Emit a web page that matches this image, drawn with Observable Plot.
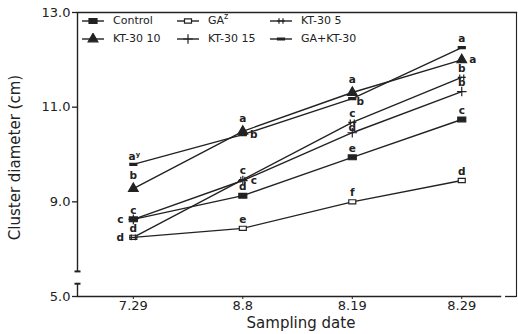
<!DOCTYPE html>
<html>
<head>
<meta charset="utf-8">
<script src="https://cdn.jsdelivr.net/npm/d3@7"></script>
<script src="https://cdn.jsdelivr.net/npm/@observablehq/plot@0.6"></script>
<style>
  body { margin: 0; background: #fff; }
  #chart { position: relative; width: 518px; height: 334px; font-family: "DejaVu Sans", sans-serif; color: #222; }
  #chart svg { display: block; }
  .leg { position: absolute; font-size: 11px; line-height: 12px; white-space: nowrap; display: flex; align-items: center; }
  .leg svg { margin-right: 9px; }
  .leg sup { font-size: 8px; line-height: 0; vertical-align: 5px; }
</style>
</head>
<body>
<div id="chart"></div>
<script>
// Sampling dates (x categories)
const dates = ["7.29", "8.8", "8.19", "8.29"];

// Cluster diameter (cm) per treatment
const control = [8.63, 9.13, 9.94, 10.74];
const ga      = [8.25, 8.44, 9.00, 9.45];
const kt5     = [8.25, 9.47, 10.68, 11.63];
const kt10    = [9.28, 10.49, 11.31, 12.00];
const kt15    = [8.63, 9.45, 10.46, 11.33];
const gaKt    = [9.79, 10.42, 11.18, 12.26];

// Mean separation letters per treatment and date
const lettersControl = ["c", "d", "e", "c"];
const lettersGa      = ["d", "e", "f", "d"];
const lettersKt5     = ["d", "c", "c", "b"];
const lettersKt10    = ["b", "a", "a", "a"];
const lettersKt15    = ["c", "c", "d", "b"];
const lettersGaKt    = ["aʸ", "b", "b", "a"];

// Y axis ticks; the lowest one sits below an axis break
const yTicks = [7, 9, 11, 13];
const yTickLabels = ["5.0", "9.0", "11.0", "13.0"];

const ink = "#222";
const xDomain = [-0.51, 3.5];
const yBreak = [7.27, 7.53];

// Marker shapes
const radius = s => Math.sqrt(s / Math.PI);
const wideBox = {draw(c, s) { const r = radius(s); c.moveTo(-r, -0.6 * r); c.lineTo(r, -0.6 * r); c.lineTo(r, 0.6 * r); c.lineTo(-r, 0.6 * r); c.closePath(); }};
const dash = {draw(c, s) { const r = radius(s); c.moveTo(-r, -1); c.lineTo(r, -1); c.lineTo(r, 1); c.lineTo(-r, 1); c.closePath(); }};
const doublePlus = {draw(c, s) { const r = radius(s); c.moveTo(-r, 0); c.lineTo(r, 0); c.moveTo(-r / 2, -0.7 * r); c.lineTo(-r / 2, 0.7 * r); c.moveTo(r / 2, -0.7 * r); c.lineTo(r / 2, 0.7 * r); }};

const series = [
  {name: "Control",  values: control, letters: lettersControl, sides: ["left", "above", "above", "above"], symbol: wideBox, r: 4, fill: ink, stroke: ink},
  {name: "GA",       values: ga,      letters: lettersGa,      sides: ["left", "above", "above", "above"], symbol: wideBox, r: 3.5, fill: "white", stroke: ink},
  {name: "KT-30 5",  values: kt5,     letters: lettersKt5,     sides: ["above", "above", "above", "above"], symbol: doublePlus, r: 4, fill: "none", stroke: ink},
  {name: "KT-30 10", values: kt10,    letters: lettersKt10,    sides: ["high", "high", "high", "right"], symbol: "triangle", r: 3.6, fill: ink, stroke: ink},
  {name: "KT-30 15", values: kt15,    letters: lettersKt15,    sides: ["above", "right", "near", "above"], symbol: "plus", r: 3.2, fill: "none", stroke: ink},
  {name: "GA+KT-30", values: gaKt,    letters: lettersGaKt,    sides: ["sup", "right", "rightLow", "above"], symbol: dash, r: 3.5, fill: ink, stroke: ink}
];

const rows = series.flatMap(s => s.values.map((v, i) => ({series: s.name, i, value: v, letter: s.letters[i], side: s.sides[i]})));

const labelOffsets = {
  above: {dx: 0, dy: -9},
  high: {dx: 0, dy: -13},
  near: {dx: 0, dy: -5},
  sup: {dx: 1, dy: -8},
  left: {dx: -13, dy: 0},
  right: {dx: 11, dy: 0},
  rightLow: {dx: 8, dy: 3}
};

const marks = [
  Plot.frame({anchor: "top", stroke: ink, strokeWidth: 1.3}),
  Plot.frame({anchor: "right", stroke: ink, strokeWidth: 1.1}),
  // broken left axis
  Plot.ruleX([xDomain[0]], {y1: yBreak[1], y2: 13, stroke: ink, strokeWidth: 1.4}),
  Plot.ruleX([xDomain[0]], {y1: 7, y2: yBreak[0], stroke: ink, strokeWidth: 1.4}),
  Plot.dot(yBreak, {x: xDomain[0], y: d => d, symbol: dash, r: 3, fill: ink, stroke: "none"}),
  // broken bottom axis
  Plot.ruleY([7], {x1: xDomain[0], x2: 3.365, stroke: ink, strokeWidth: 1.3}),
  Plot.ruleY([7], {x1: 3.40, x2: xDomain[1], stroke: ink, strokeWidth: 1.3}),
  Plot.axisY({ticks: yTicks, tickFormat: d => yTickLabels[yTicks.indexOf(d)], tickSize: 5, tickPadding: 2, fontSize: 13, stroke: ink, strokeWidth: 1.3, label: null}),
  Plot.axisX({ticks: [0, 1, 2, 3], tickFormat: i => dates[i], tickSize: 3, tickPadding: 1, fontSize: 13, label: null}),
  Plot.line(rows, {x: "i", y: "value", z: "series", stroke: ink, strokeWidth: 1.4}),
  ...series.map(s => Plot.dot(rows.filter(d => d.series === s.name), {x: "i", y: "value", symbol: s.symbol, r: s.r, fill: s.fill, stroke: s.stroke, strokeWidth: 1.2})),
  ...Object.entries(labelOffsets).map(([side, o]) =>
    Plot.text(rows.filter(d => d.side === side), {x: "i", y: "value", text: "letter", dx: o.dx, dy: o.dy, fontSize: 10.5, fontWeight: "bold", fill: ink})),
  Plot.text(["Sampling date"], {frameAnchor: "bottom", textAnchor: "middle", lineAnchor: "middle", dx: 4, dy: 27, fontSize: 15, fill: ink}),
  Plot.text(["Cluster diameter (cm)"], {frameAnchor: "left", textAnchor: "middle", lineAnchor: "middle", rotate: -90, dx: -62, dy: 3, fontSize: 15, fill: ink})
];

const chart = Plot.plot({
  width: 518,
  height: 334,
  marginLeft: 77,
  marginRight: 2,
  marginTop: 12,
  marginBottom: 38,
  style: {fontFamily: "DejaVu Sans, sans-serif", color: ink, background: "white"},
  x: {type: "linear", domain: xDomain},
  y: {domain: [7, 13]},
  marks
});

const root = document.getElementById("chart");
root.appendChild(chart);

// Legend inside the plot frame
const namedSymbols = {triangle: d3.symbolTriangle, plus: d3.symbolPlus};
function swatch(s) {
  const w = 22, h = 12, size = Math.PI * s.r * s.r;
  const type = typeof s.symbol === "string" ? namedSymbols[s.symbol] : s.symbol;
  const path = d3.symbol(type, size)();
  return `<svg width="${w}" height="${h}"><line x1="0" x2="${w}" y1="${h / 2}" y2="${h / 2}" stroke="${ink}" stroke-width="1.4"/>` +
    `<path transform="translate(${w / 2},${h / 2})" d="${path}" fill="${s.fill}" stroke="${s.stroke}" stroke-width="1.2"/></svg>`;
}
const legendPos = [[82, 15], [177, 15], [270, 15], [82, 33], [177, 33], [270, 33]];
series.forEach((s, k) => {
  const el = document.createElement("div");
  el.className = "leg";
  el.style.left = legendPos[k][0] + "px";
  el.style.top = legendPos[k][1] + "px";
  const name = s.name === "GA" ? "GA<sup>z</sup>" : s.name;
  el.innerHTML = swatch(s) + `<span>${name}</span>`;
  root.appendChild(el);
});
</script>
</body>
</html>
